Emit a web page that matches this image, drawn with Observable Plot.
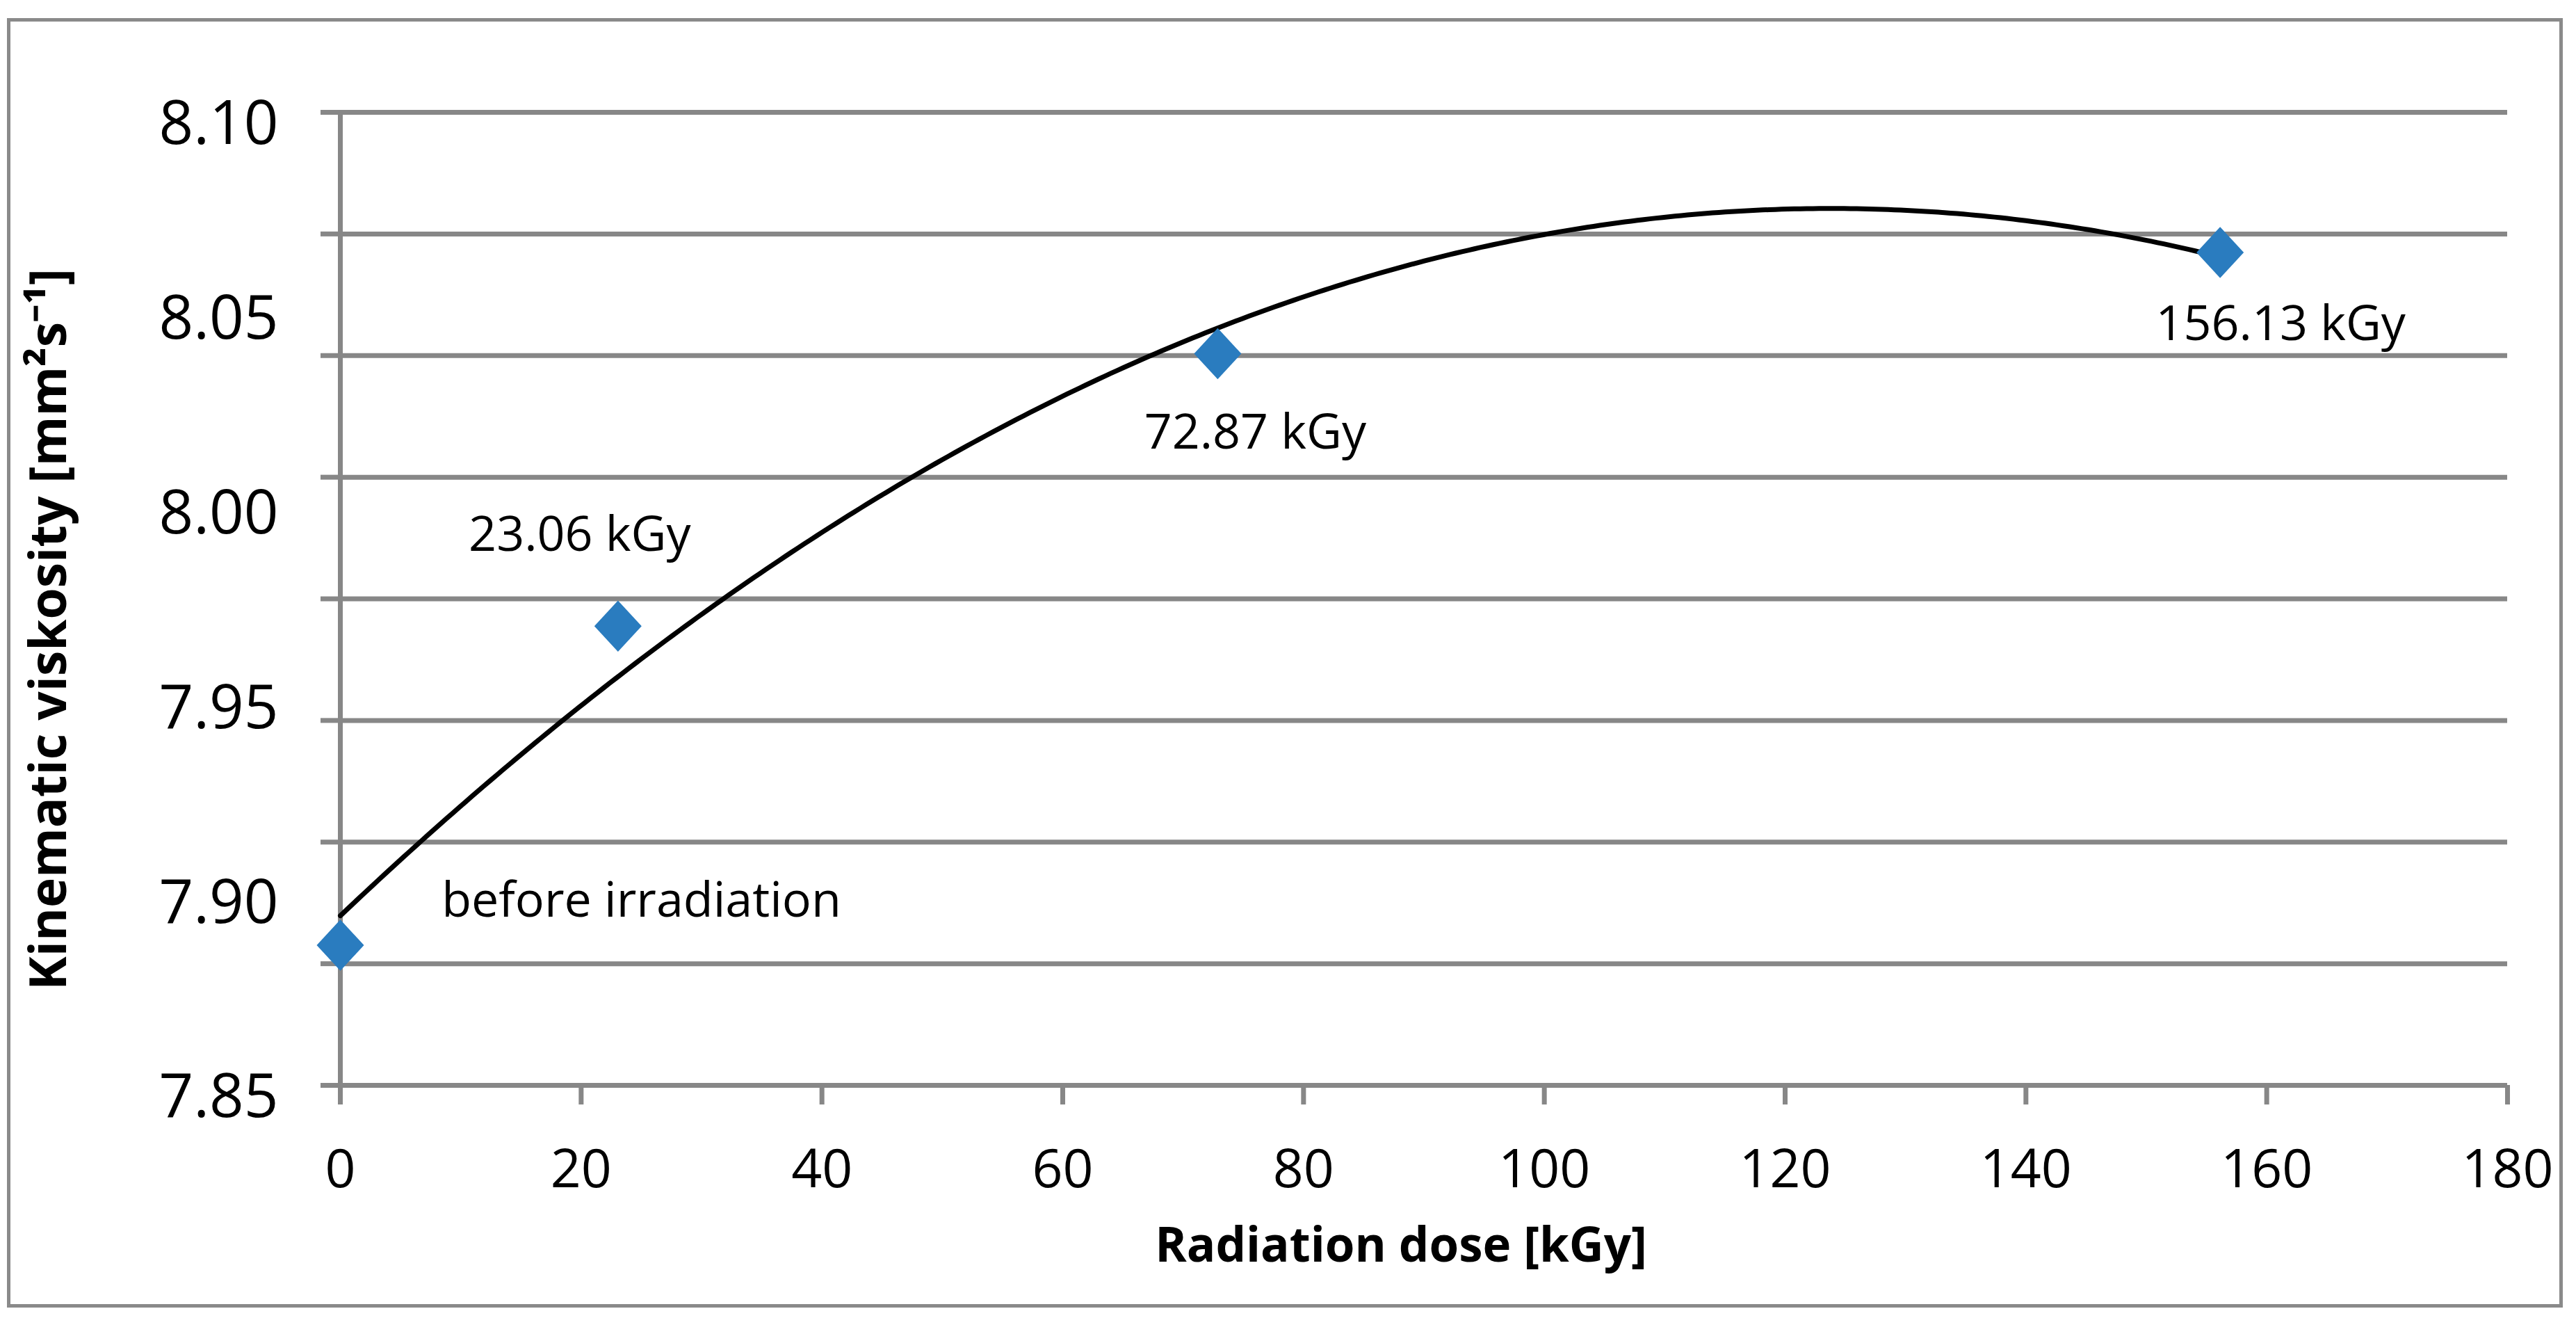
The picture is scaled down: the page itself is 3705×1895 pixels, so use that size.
<!DOCTYPE html>
<html>
<head>
<meta charset="utf-8">
<script src="https://cdn.jsdelivr.net/npm/d3@7"></script>
<script src="https://cdn.jsdelivr.net/npm/@observablehq/plot@0.6"></script>
<style>
html, body { margin: 0; padding: 0; background: #ffffff; }
#wrap { position: relative; width: 3705px; height: 1895px; background: #ffffff; }
#wrap svg { position: absolute; left: 0; top: 0; }
#border { position: absolute; left: 10px; top: 26px; width: 3676px; height: 1854px;
  border: 5px solid #8a8a8a; box-sizing: border-box; pointer-events: none; z-index: 2; }
</style>
</head>
<body>
<div id="wrap"></div>
<script>
// ---- data ----
const doses = [0, 23.06, 72.87, 156.13];                 // Radiation dose [kGy]
const viscosity = [7.886, 7.968, 8.038, 8.064];          // Kinematic viscosity [mm2 s-1]
const pointLabels = ["before irradiation", "23.06 kGy", "72.87 kGy", "156.13 kGy"];
const xTicks = [0, 20, 40, 60, 80, 100, 120, 140, 160, 180];
const yTickLabels = [7.85, 7.90, 7.95, 8.00, 8.05, 8.10];
const yGridLines = [7.85, 7.88125, 7.9125, 7.94375, 7.975, 8.00625, 8.0375, 8.06875, 8.10];

// ---- layout (not data) ----
const labelDx = [433, -55, 54, 87];
const labelDy = [-63, -131, 114, 104];

const points = doses.map((d, i) => ({dose: d, visc: viscosity[i], label: pointLabels[i]}));

// Polynomial (order 2) least-squares trend line, as in the source spreadsheet
function quadFit(xs, ys) {
  const S = k => d3.sum(xs, x => x ** k);
  const T = k => d3.sum(xs, (x, i) => (x ** k) * ys[i]);
  const A = [[S(0), S(1), S(2), T(0)], [S(1), S(2), S(3), T(1)], [S(2), S(3), S(4), T(2)]];
  for (let c = 0; c < 3; c++) {
    for (let r = c + 1; r < 3; r++) {
      const f = A[r][c] / A[c][c];
      for (let k = c; k < 4; k++) A[r][k] -= f * A[c][k];
    }
  }
  const coef = [0, 0, 0];
  for (let r = 2; r >= 0; r--) {
    let s = A[r][3];
    for (let k = r + 1; k < 3; k++) s -= A[r][k] * coef[k];
    coef[r] = s / A[r][r];
  }
  return x => coef[0] + coef[1] * x + coef[2] * x * x;
}
const trend = quadFit(doses, viscosity);
const xMax = d3.max(doses);
const trendPts = d3.range(0, 301).map(i => { const x = xMax * i / 300; return {dose: x, visc: trend(x)}; });

// elongated diamond marker
const diamond = {
  draw(ctx, size) {
    const r = Math.sqrt(size / Math.PI);
    const h = r * 1.08;
    ctx.moveTo(0, -h); ctx.lineTo(r, 0); ctx.lineTo(0, h); ctx.lineTo(-r, 0); ctx.closePath();
  }
};

const GRID = "#878787";
const BLUE = "#2a7cbf";

const chart = Plot.plot({
  width: 3705,
  height: 1895,
  marginLeft: 489,
  marginRight: 99,
  marginTop: 161,
  marginBottom: 335,
  style: {fontFamily: "'Open Sans', sans-serif", fontSize: "70px", color: "#000", background: "transparent", overflow: "visible"},
  x: {domain: [0, 180]},
  y: {domain: [7.85, 8.10]},
  marks: [
    Plot.gridY(yGridLines, {stroke: GRID, strokeWidth: 7, strokeOpacity: 1}),
    Plot.axisY(yGridLines, {tickSize: 28, stroke: GRID, strokeWidth: 7, tickFormat: () => "", label: null}),
    Plot.ruleX([0], {stroke: GRID, strokeWidth: 7}),
    Plot.axisX(xTicks, {tickSize: 28, stroke: GRID, strokeWidth: 7, tickPadding: 64, fontSize: 77, label: null}),
    Plot.axisY(yTickLabels, {tickSize: 0, tickPadding: 89, fontSize: 87, dy: 18, tickFormat: d => d.toFixed(2), label: null}),
    Plot.line(trendPts, {x: "dose", y: "visc", stroke: "#000", strokeWidth: 7, curve: "linear"}),
    Plot.dot(points, {x: "dose", y: "visc", symbol: diamond, r: 34, fill: BLUE, stroke: null}),
    ...points.map((p, i) => Plot.text([p], {x: "dose", y: "visc", text: "label", dx: labelDx[i], dy: labelDy[i], fontSize: 70, fill: "#000"})),
    Plot.text(["Radiation dose [kGy]"], {frameAnchor: "bottom", textAnchor: "middle", lineAnchor: "middle", dx: -33, dy: 231, fontSize: 69, fontWeight: "bold", fill: "#000"}),
    Plot.text(["Kinematic viskosity [mm²s⁻¹]"], {frameAnchor: "left", textAnchor: "middle", lineAnchor: "middle", dx: -418, dy: 44, rotate: -90, fontSize: 73, fontWeight: "bold", fill: "#000"})
  ]
});

const wrap = document.getElementById("wrap");
wrap.appendChild(chart);
const border = document.createElement("div");
border.id = "border";
wrap.appendChild(border);
</script>
</body>
</html>
